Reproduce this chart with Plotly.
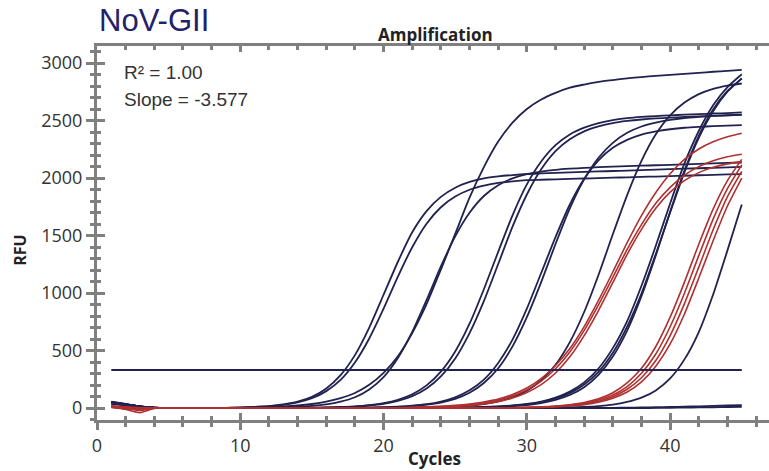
import plotly.graph_objects as go

# ---------------- data ----------------
CYCLES = list(range(1, 46))

# navy (standards) amplification curves, RFU per cycle 1..45
N1 = [48, 30, 13, 3, 0, 0, 0, 1, 2, 5, 10, 17, 31, 55, 97, 170, 286, 460, 700, 985,
      1272, 1528, 1712, 1836, 1916, 1966, 1996, 2014, 2026, 2035, 2040, 2045, 2049, 2053, 2057,
      2061, 2065, 2069, 2073, 2077, 2081, 2085, 2089, 2093, 2097]
N2 = [40, 25, 10, 2, 0, 0, 0, 0, 1, 4, 9, 16, 28, 49, 85, 147, 245, 396, 605, 864,
      1143, 1398, 1603, 1746, 1839, 1898, 1933, 1957, 1971, 1981, 1985, 1989, 1992, 1996, 1999,
      2003, 2006, 2010, 2013, 2017, 2020, 2024, 2027, 2031, 2034]
N3 = [52, 34, 15, 3, 0, 0, 0, 0, 1, 2, 5, 9, 14, 22, 35, 55, 86, 131, 202, 306,
      450, 653, 904, 1204, 1515, 1829, 2095, 2317, 2481, 2600, 2683, 2741, 2786, 2813, 2836,
      2852, 2866, 2878, 2888, 2897, 2906, 2915, 2924, 2932, 2940]
N4 = [44, 28, 12, 2, 0, 0, 0, 0, 0, 1, 2, 4, 6, 10, 18, 31, 55, 94, 162, 269,
      435, 662, 939, 1231, 1493, 1698, 1844, 1938, 1997, 2034, 2056, 2071, 2081, 2088, 2094,
      2099, 2103, 2107, 2111, 2115, 2119, 2123, 2127, 2131, 2135]
N5 = [47, 30, 12, 2, 0, 0, 0, 0, 0, 0, 0, 1, 2, 3, 4, 5, 9, 15, 26, 43,
      72, 120, 197, 317, 492, 733, 1033, 1358, 1676, 1945, 2144, 2286, 2379, 2438, 2478,
      2504, 2520, 2531, 2539, 2545, 2551, 2556, 2561, 2565, 2570]
N6 = [38, 24, 9, 1, 0, 0, 0, 0, 0, 0, 0, 1, 2, 2, 3, 5, 8, 13, 22, 37,
      62, 103, 170, 275, 431, 652, 930, 1252, 1577, 1857, 2076, 2234, 2337, 2406, 2449,
      2478, 2496, 2509, 2518, 2525, 2531, 2536, 2541, 2545, 2549]
N7 = [55, 35, 15, 3, 0, 0, 0, 0, 0, 0, 0, 0, 0, 0, 0, 1, 2, 3, 4, 7,
      12, 20, 33, 56, 93, 154, 247, 392, 595, 864, 1174, 1486, 1770, 1993, 2154,
      2263, 2332, 2378, 2405, 2424, 2437, 2445, 2451, 2456, 2460]
N8 = [42, 27, 11, 2, 0, 0, 0, 0, 0, 0, 0, 0, 0, 0, 0, 0, 1, 2, 4, 6,
      10, 17, 29, 48, 80, 133, 218, 346, 536, 790, 1095, 1426, 1736, 1988, 2176,
      2306, 2393, 2448, 2482, 2506, 2522, 2532, 2540, 2546, 2551]
N9 = [50, 32, 14, 3, 0, 0, 0, 0, 0, 0, 0, 0, 0, 0, 0, 0, 0, 0, 0, 0,
      2, 4, 6, 8, 13, 21, 35, 58, 94, 151, 242, 376, 573, 835, 1157,
      1511, 1852, 2149, 2380, 2545, 2656, 2730, 2776, 2804, 2822]
N10 = [46, 29, 12, 2, 0, 0, 0, 0, 0, 0, 0, 0, 0, 0, 0, 0, 0, 0, 0, 0,
       0, 0, 0, 2, 3, 5, 9, 14, 22, 35, 56, 90, 143, 223, 344,
       521, 756, 1063, 1411, 1779, 2127, 2409, 2632, 2790, 2902]
N11 = [39, 25, 10, 1, 0, 0, 0, 0, 0, 0, 0, 0, 0, 0, 0, 0, 0, 0, 0, 0,
       0, 0, 0, 0, 2, 4, 8, 13, 20, 32, 52, 82, 130, 205, 314,
       480, 708, 995, 1340, 1700, 2051, 2350, 2581, 2750, 2867]
N12 = [53, 34, 14, 3, 0, 0, 0, 0, 0, 0, 0, 0, 0, 0, 0, 0, 0, 0, 0, 0,
       0, 0, 0, 0, 1, 3, 6, 10, 16, 26, 43, 70, 113, 181, 288,
       448, 674, 973, 1327, 1708, 2065, 2367, 2596, 2757, 2864]
N13 = [44, 28, 11, 2, 0, 0, 0, 0, 0, 0, 0, 0, 0, 0, 0, 0, 0, 0, 0, 0,
       0, 0, 0, 0, 0, 0, 0, 0, 0, 0, 2, 3, 6, 10, 17,
       30, 53, 90, 153, 257, 423, 661, 987, 1371, 1770]
NC1 = [50, 31, 13, 2, 0, 0, 0, 0, 0, 0, 0, 0, 0, 0, 0, 0, 0, 0, 0, 0,
       0, 0, 0, 0, 0, 0, 0, 0, 0, 0, 0, 0, 0, 0, 1,
       2, 3, 5, 7, 9, 12, 15, 18, 22, 26]
NC2 = [41, 26, 11, 2, 0, 0, 0, 0, 0, 0, 0, 0, 0, 0, 0, 0, 0, 0, 0, 0,
       0, 0, 0, 0, 0, 0, 0, 0, 0, 0, 0, 0, 0, 0, 0,
       0, 0, 0, 1, 2, 4, 5, 7, 9, 11]

# red (samples) amplification curves
R1 = [10, -12, -40, -3, 0, 0, 0, 0, 0, 0, 0, 0, 0, 0, 0, 0, 0, 0, 0, 1,
      3, 7, 10, 15, 23, 35, 53, 78, 118, 174, 255, 370, 517, 708, 936,
      1183, 1438, 1673, 1874, 2038, 2163, 2252, 2315, 2359, 2389]
R2 = [18, 8, -5, 0, 0, 0, 0, 0, 0, 0, 0, 0, 0, 0, 0, 0, 0, 0, 0, 0,
      2, 4, 8, 12, 19, 29, 45, 69, 105, 158, 234, 342, 488, 675, 898,
      1136, 1379, 1595, 1780, 1919, 2025, 2099, 2151, 2185, 2207]
R3 = [5, -5, -22, -1, 0, 0, 0, 0, 0, 0, 0, 0, 0, 0, 0, 0, 0, 0, 0, 0,
      1, 3, 6, 9, 15, 23, 36, 56, 87, 135, 204, 305, 445, 630, 848,
      1090, 1336, 1554, 1737, 1877, 1977, 2047, 2093, 2123, 2145]
R4 = [15, 6, 2, 0, 0, 0, 0, 0, 0, 0, 0, 0, 0, 0, 0, 0, 0, 0, 0, 0,
      0, 0, 0, 0, 0, 0, 0, 1, 3, 6, 10, 17, 29, 48, 80,
      133, 218, 345, 535, 790, 1095, 1425, 1730, 1978, 2162]
R5 = [12, 3, -8, 0, 0, 0, 0, 0, 0, 0, 0, 0, 0, 0, 0, 0, 0, 0, 0, 0,
      0, 0, 0, 0, 0, 0, 0, 1, 2, 5, 9, 15, 25, 41, 69,
      114, 187, 302, 470, 707, 998, 1325, 1643, 1908, 2115]
R6 = [20, 9, 1, 0, 0, 0, 0, 0, 0, 0, 0, 0, 0, 0, 0, 0, 0, 0, 0, 0,
      0, 0, 0, 0, 0, 0, 0, 0, 2, 4, 7, 12, 21, 35, 59,
      99, 163, 263, 413, 630, 908, 1225, 1550, 1838, 2058]
R7 = [8, -2, -15, 0, 0, 0, 0, 0, 0, 0, 0, 0, 0, 0, 0, 0, 0, 0, 0, 0,
      0, 0, 0, 0, 0, 0, 0, 0, 2, 3, 6, 11, 18, 30, 50,
      85, 139, 228, 364, 557, 818, 1130, 1455, 1757, 2000]

NAVY_CURVES = [N1, N2, N3, N4, N5, N6, N7, N8, N9, N10, N11, N12, N13, NC1, NC2]
RED_CURVES = [R1, R2, R3, R4, R5, R6, R7]

THRESHOLD = 330
THRESH_CYCLES = [1, 45]

X_TICKS = [0, 10, 20, 30, 40]
X_MINOR = list(range(0, 47, 2))
Y_TICKS = [0, 500, 1000, 1500, 2000, 2500, 3000]
Y_MINOR = list(range(-100, 3101, 100))

R2_TEXT = "R\u00b2 = 1.00"
SLOPE_TEXT = "Slope = -3.577"

# ---------------- style ----------------
NAVY = "#222250"
RED = "#b03030"
AXIS = "#808080"
TXT = "#333333"
X_RANGE = [0, 46.9]
Y_RANGE = [-104, 3148]

fig = go.Figure()
for ys in NAVY_CURVES:
    fig.add_trace(go.Scatter(x=CYCLES, y=ys, mode="lines",
                             line=dict(color=NAVY, width=1.8, shape="spline", smoothing=0.6),
                             hoverinfo="skip"))
for ys in RED_CURVES:
    fig.add_trace(go.Scatter(x=CYCLES, y=ys, mode="lines",
                             line=dict(color=RED, width=1.6, shape="spline", smoothing=0.6),
                             hoverinfo="skip"))
fig.add_trace(go.Scatter(x=THRESH_CYCLES, y=[THRESHOLD] * len(THRESH_CYCLES), mode="lines",
                         line=dict(color=NAVY, width=2), hoverinfo="skip"))
# invisible traces for helper axes
fig.add_trace(go.Scatter(x=[None], y=[None], xaxis="x2", yaxis="y2", showlegend=False))
fig.add_trace(go.Scatter(x=[None], y=[None], xaxis="x3", yaxis="y", showlegend=False))

common_x = dict(range=X_RANGE, showgrid=False, zeroline=False, fixedrange=True)
common_y = dict(range=Y_RANGE, showgrid=False, zeroline=False, fixedrange=True)

fig.update_layout(
    width=769, height=471,
    margin=dict(l=97, r=0, t=46, b=51),
    paper_bgcolor="white", plot_bgcolor="white",
    showlegend=False,
    font=dict(family="Open Sans", color=TXT),
    xaxis=dict(**common_x, side="bottom", anchor="y",
               showline=True, linecolor=AXIS, linewidth=3,
               tickmode="array", tickvals=X_TICKS, ticks="outside", ticklen=7, tickwidth=3,
               tickcolor=AXIS, tickfont=dict(size=18, color=TXT, family="Open Sans"),
               minor=dict(tickmode="array", tickvals=X_MINOR, ticks="outside", ticklen=4,
                          tickwidth=2.5, tickcolor=AXIS)),
    xaxis2=dict(**common_x, overlaying="x", side="bottom", anchor="y2",
                showline=False, showticklabels=False,
                tickmode="array", tickvals=X_TICKS, ticks="inside", ticklen=7, tickwidth=3,
                tickcolor=AXIS,
                minor=dict(tickmode="array", tickvals=X_MINOR, ticks="inside", ticklen=4,
                           tickwidth=2.5, tickcolor=AXIS)),
    xaxis3=dict(**common_x, overlaying="x", side="top", anchor="y",
                showline=True, linecolor=AXIS, linewidth=3, showticklabels=False,
                tickmode="array", tickvals=X_TICKS, ticks="inside", ticklen=6, tickwidth=3,
                tickcolor=AXIS,
                minor=dict(tickmode="array", tickvals=X_MINOR, ticks="inside", ticklen=4,
                           tickwidth=2.5, tickcolor=AXIS)),
    yaxis=dict(**common_y, side="left", anchor="x",
               showline=True, linecolor=AXIS, linewidth=3,
               tickmode="array", tickvals=Y_TICKS, ticks="outside", ticklen=8, tickwidth=3,
               tickcolor=AXIS, tickfont=dict(size=18, color=TXT, family="Open Sans"),
               minor=dict(tickmode="array", tickvals=Y_MINOR, ticks="outside", ticklen=4,
                          tickwidth=2.5, tickcolor=AXIS)),
    yaxis2=dict(**common_y, overlaying="y", side="left", anchor="x2",
                showline=False, showticklabels=False,
                tickmode="array", tickvals=Y_TICKS, ticks="inside", ticklen=8, tickwidth=3,
                tickcolor=AXIS,
                minor=dict(tickmode="array", tickvals=Y_MINOR, ticks="inside", ticklen=4,
                           tickwidth=2.5, tickcolor=AXIS)),
    annotations=[
        dict(text="NoV-GII", xref="paper", yref="paper", x=0.0, y=1.067,
             xanchor="left", yanchor="middle", showarrow=False,
             font=dict(family="Liberation Sans", size=31, color="#22226a")),
        dict(text="<b>Amplification</b>", xref="paper", yref="paper", x=0.504, y=1.032,
             xanchor="center", yanchor="middle", showarrow=False,
             font=dict(family="Open Sans", size=17, color="#222222")),
        dict(text="<b>Cycles</b>", xref="paper", yref="paper", x=0.504, y=1.118,
             xanchor="center", yanchor="bottom", showarrow=False,
             font=dict(family="Open Sans", size=16, color="#222222")),
        dict(text="<b>Cycles</b>", xref="paper", yref="paper", x=0.502, y=-0.104,
             xanchor="center", yanchor="middle", showarrow=False,
             font=dict(family="Open Sans", size=17, color="#222222")),
        dict(text="<b>RFU</b>", xref="paper", yref="paper", x=-0.1146, y=0.455,
             xanchor="center", yanchor="middle", showarrow=False, textangle=-90,
             font=dict(family="Open Sans", size=16, color="#222222")),
        dict(text=R2_TEXT, xref="paper", yref="paper", x=0.037, y=0.928,
             xanchor="left", yanchor="middle", showarrow=False,
             font=dict(family="Liberation Sans", size=19, color=TXT)),
        dict(text=SLOPE_TEXT, xref="paper", yref="paper", x=0.037, y=0.858,
             xanchor="left", yanchor="middle", showarrow=False,
             font=dict(family="Liberation Sans", size=19, color=TXT)),
    ],
)

fig.write_html("out.html")
